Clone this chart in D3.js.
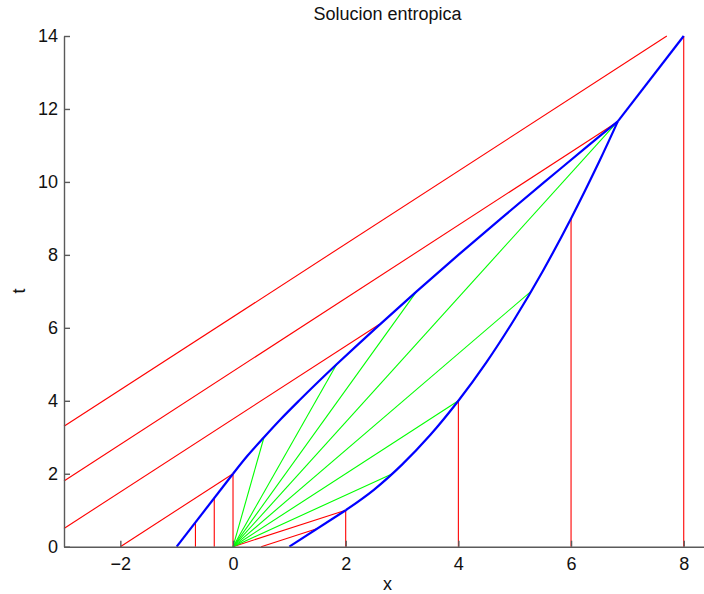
<!DOCTYPE html>
<html>
<head>
<meta charset="utf-8">
<script src="https://cdn.jsdelivr.net/npm/d3@7"></script>
<style>
  body { margin: 0; background: #fff; }
  text { font-family: "Liberation Sans", Arial, sans-serif; fill: #111; }
  .axis path, .axis line { stroke: #5a5a5a; stroke-width: 1.4; }
  .axis text { font-size: 18px; }
</style>
</head>
<body>
<div id="chart"></div>
<script>
// tick values
var xTicks = [-2, 0, 2, 4, 6, 8];
var tTicks = [0, 2, 4, 6, 8, 10, 12, 14];

// shocks (blue)
var leftShockStart = [[-1, 0], [0, 2]];
var leftShockCurve = [[0, 2], [0.26, 2.5], [0.55, 3], [0.85, 3.5], [1.17, 4], [1.5, 4.5], [1.84, 5],
                      [2.54, 6], [3.26, 7], [4.0, 8], [4.76, 9], [5.53, 10], [6.31, 11], [6.83, 11.66]];
var mergedShock = [[6.83, 11.66], [8, 14]];
var rightShockStart = [[1, 0], [2, 1]];
var rightShockCurve = [[2, 1], [2.5, 1.56], [3, 2.25], [3.5, 3.06], [4, 4], [4.5, 5.06], [5, 6.25],
                       [5.5, 7.56], [6, 9], [6.5, 10.56], [6.83, 11.66]];

// characteristics (red): [x0, t0, x1, t1]
var redLines = [
  [-0.667, 0, -0.667, 0.667],
  [-0.333, 0, -0.333, 1.333],
  [0, 0, 0, 2],
  [2, 0, 2, 1],
  [4, 0, 4, 4],
  [6, 0, 6, 9],
  [8, 0, 8, 14],
  [-2, 0, 0, 2],
  [-3, 0.5, 2.6, 6.1],
  [-3, 1.8, 6.8, 11.62],
  [-3, 3.3, 7.7, 14],
  [0, 0, 2, 1],
  [0.5, 0, 1.5, 0.5]
];

// rarefaction fan (green) end points, all starting at the origin
var fanEnds = [[0.55, 3], [1.84, 5], [3.26, 7], [6.83, 11.66], [5.29, 7], [4, 4], [2.83, 2]];

var W = 704, H = 594;
var x = d3.scaleLinear().domain([-3, 8.5]).range([64, 711.9]);
var y = d3.scaleLinear().domain([0, 14]).range([546.7, 36]);

var svg = d3.select("#chart").append("svg")
    .attr("width", W)
    .attr("height", H);

var line = d3.line().x(function(d) { return x(d[0]); }).y(function(d) { return y(d[1]); });
var curve = d3.line().x(function(d) { return x(d[0]); }).y(function(d) { return y(d[1]); })
    .curve(d3.curveCatmullRom);

svg.append("g")
   .selectAll("line")
   .data(redLines).enter()
   .append("line")
   .attr("x1", function(d) { return x(d[0]); })
   .attr("y1", function(d) { return y(d[1]); })
   .attr("x2", function(d) { return x(d[2]); })
   .attr("y2", function(d) { return y(d[3]); })
   .attr("stroke", "#ff0000")
   .attr("stroke-width", 1.1);

svg.append("g")
   .selectAll("line")
   .data(fanEnds).enter()
   .append("line")
   .attr("x1", x(0))
   .attr("y1", y(0))
   .attr("x2", function(d) { return x(d[0]); })
   .attr("y2", function(d) { return y(d[1]); })
   .attr("stroke", "#00ff00")
   .attr("stroke-width", 1.1);

var blue = svg.append("g")
   .attr("fill", "none")
   .attr("stroke", "#0000ff")
   .attr("stroke-width", 2.2);
blue.append("path").attr("d", line(leftShockStart));
blue.append("path").attr("d", curve(leftShockCurve));
blue.append("path").attr("d", line(mergedShock));
blue.append("path").attr("d", line(rightShockStart));
blue.append("path").attr("d", curve(rightShockCurve));

var xAxis = d3.axisBottom(x).tickValues(xTicks).tickSizeInner(-6).tickSizeOuter(0).tickPadding(11)
    .tickFormat(function(d) { return d < 0 ? "\u2212" + Math.abs(d) : d; });
var yAxis = d3.axisLeft(y).tickValues(tTicks).tickSizeInner(-6).tickSizeOuter(0).tickPadding(6);

var xx = svg.append("g")
   .attr("class", "axis")
   .attr("transform", "translate(0," + y(0) + ")")
   .call(xAxis);
xx.selectAll("text").attr("fill", "#111");

var yy = svg.append("g")
   .attr("class", "axis")
   .attr("transform", "translate(" + x(-3) + ",0)")
   .call(yAxis);
yy.selectAll("text").attr("fill", "#111");

svg.append("text")
   .attr("x", 387.5)
   .attr("y", 20)
   .attr("text-anchor", "middle")
   .style("font-size", "18px")
   .text("Solucion entropica");

svg.append("text")
   .attr("x", 387.5)
   .attr("y", 590)
   .attr("text-anchor", "middle")
   .style("font-size", "18px")
   .text("x");

svg.append("text")
   .attr("transform", "translate(25," + 291 + ") rotate(-90)")
   .attr("text-anchor", "middle")
   .style("font-size", "18px")
   .text("t");
</script>
</body>
</html>
